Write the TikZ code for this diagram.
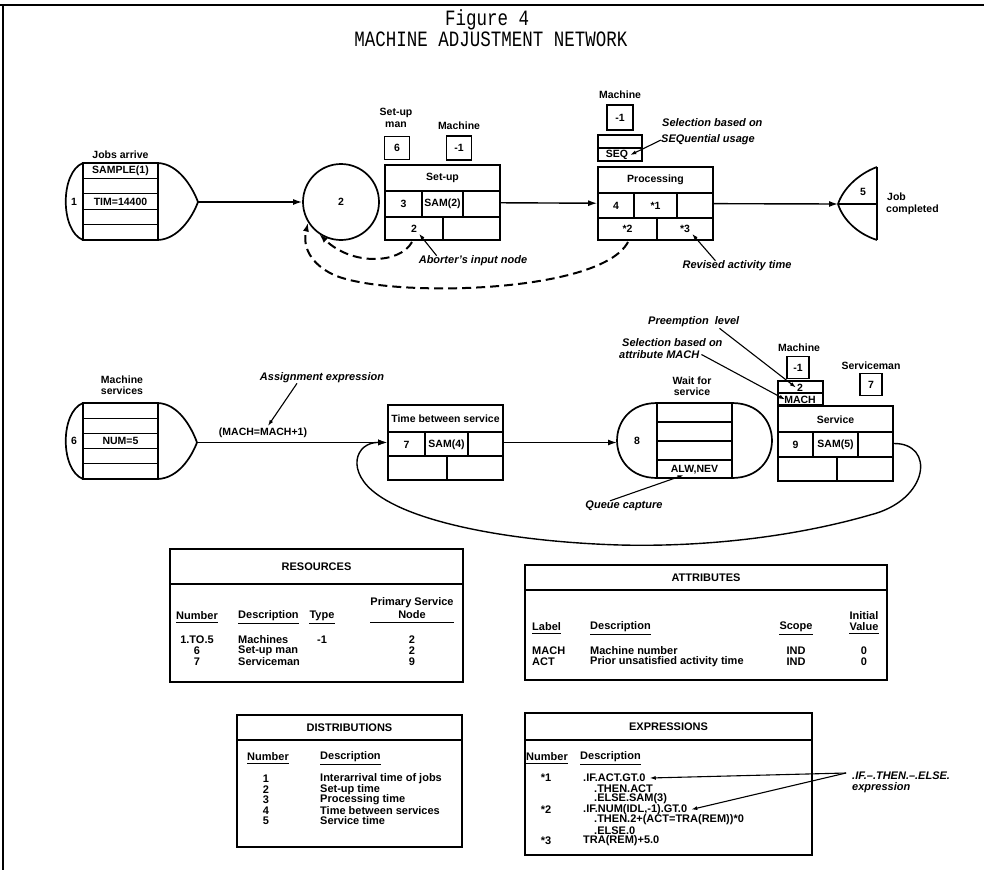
\documentclass[tikz,border=0pt]{standalone}
\usepackage{fontspec}
\setmainfont{Liberation Sans}
\newfontfamily\titlefont{Liberation Mono}
\usetikzlibrary{arrows.meta,calc}
\begin{document}
\begin{tikzpicture}[x=1pt,y=-1pt,
  lbl/.style={font=\fontsize{10.5}{10.5}\selectfont\bfseries, inner sep=0pt},
  ann/.style={font=\fontsize{11}{11}\selectfont\bfseries\itshape, inner sep=0pt},
  tbl/.style={font=\fontsize{11}{11}\selectfont\bfseries, inner sep=0pt},
  ttl/.style={font=\titlefont\fontsize{17.5}{17.5}\selectfont, inner sep=0pt, anchor=base},
  boxln/.style={line width=1.7pt},
  cellln/.style={line width=1.3pt},
  sbox/.style={draw, line width=1.7pt, inner sep=0pt, font=\fontsize{10.5}{10.5}\selectfont\bfseries},
  conn/.style={line width=1.4pt, -{Latex[length=9pt,width=6pt]}},
  lead/.style={line width=1.1pt, -{Latex[length=6pt,width=4pt]}},
  dconn/.style={line width=2pt, dash pattern=on 9pt off 5pt, -{Latex[length=9pt,width=6pt]}},
  uline/.style={line width=1.1pt},
]
\useasboundingbox (0,0) rectangle (984,883);
% frame
\draw[line width=2.5pt] (0,5) -- (984,5);
\draw[line width=1.5pt] (3,5) -- (3,870);
% title
\node[ttl] (fig) at (487,26) {\scalebox{1}[1.25]{Figure 4}};
\node[ttl] (net) at (491,47) {\scalebox{1}[1.25]{MACHINE ADJUSTMENT NETWORK}};

% ================= ROW 1 =================
% source node 1
\draw[boxln] (83,163) rectangle (158,240);
\foreach \yy in {178.4,193.8,209.2,224.6} \draw[cellln] (83,\yy) -- (158,\yy);
\draw[boxln] (83,163) .. controls (60,172) and (60,231) .. (83,240);
\draw[boxln] (158,163) .. controls (178,164) and (192,186) .. (198,202) .. controls (192,218) and (178,239) .. (158,240);
\coordinate (s1) at (198,202);
\node[lbl] (s1lab) at (120.5,155) {Jobs arrive};
\node[lbl] (s1num) at (74,202) {1};
\node[lbl] (s1a) at (120.5,171) {SAMPLE(1)};
\node[lbl] (s1b) at (120.5,201.5) {TIM=14400};

% Q node 2
\node[circle, draw, boxln, minimum size=76pt, inner sep=0pt, font=\fontsize{10.5}{10.5}\selectfont\bfseries] (q2) at (341,202) {2};
\draw[conn] (s1) -- (q2);

% set-up activity
\node[lbl] (sum1) at (396,113) {Set-up};
\node[lbl] (sum2) at (396,125) {man};
\node[sbox, minimum width=25pt, minimum height=23pt] (r6) at (397,148) {6};
\node[lbl] (sumach) at (459,126) {Machine};
\node[sbox, minimum width=25pt, minimum height=24pt] (r1a) at (459,148) {-1};
\node[draw, boxln, minimum width=115pt, minimum height=75pt, inner sep=0pt] (setup) at (442.5,202.5) {};
\draw[cellln] (385,191) -- (500,191) (385,217) -- (500,217) (422,191) -- (422,217) (463,191) -- (463,217) (443,217) -- (443,240);
\node[lbl] (sut) at (442.5,178) {Set-up};
\node[lbl] (su3) at (403.5,204) {3};
\node[lbl] (susam) at (442.5,204) {SAM(2)};
\node[lbl] (su2) at (414,229) {2};

% processing activity
\node[lbl] (prmach) at (620,95) {Machine};
\node[sbox, minimum width=26pt, minimum height=25pt] (r1b) at (620,117.5) {-1};
\draw[boxln] (598,135) rectangle (642,161);
\draw[cellln] (598,148) -- (642,148);
\node[lbl] (seqt) at (617,155) {SEQ};
\node[draw, boxln, minimum width=115pt, minimum height=73pt, inner sep=0pt] (proc) at (655.5,203.5) {};
\draw[cellln] (598,193) -- (713,193) (598,218) -- (713,218) (634,193) -- (634,218) (677,193) -- (677,218) (657,218) -- (657,240);
\node[lbl] (prt) at (655.5,180) {Processing};
\node[lbl] (pr4) at (616,205.5) {4};
\node[lbl] (pr1) at (655.5,205.5) {*1};
\node[lbl] (pr2) at (627.5,229) {*2};
\node[lbl] (pr3) at (685,229) {*3};
\draw[conn] (setup) -- (proc);

\node[ann, anchor=west] (sel1) at (662,123) {Selection based on};
\node[ann, anchor=west] (sel2) at (661,140) {SEQuential usage};
\draw[lead] (sel2.west) -- ([xshift=2pt]seqt.east);

% terminal node 5
\coordinate (t5) at (838,204);
\draw[boxln] (877,167) -- (877,240);
\draw[boxln] (877,167) .. controls (858,174) and (843,189) .. (t5) .. controls (843,220) and (858,234) .. (877,240);
\draw[cellln] (t5) -- (877,204);
\node[lbl] (t5n) at (863,192) {5};
\node[lbl, anchor=west] (t5a) at (887,197) {Job};
\node[lbl, anchor=west] (t5b) at (886,210) {completed};
\draw[conn] (proc) -- (t5);

% annotations row 1
\node[ann] (abl) at (473,261) {Aborter's input node};
\draw[lead] ([xshift=18pt]abl.north west) -- ([xshift=2pt,yshift=-1pt]su2.south east);
\node[ann] (rvl) at (737,266) {Revised activity time};
\draw[lead] ([xshift=33pt]rvl.north west) -- ([xshift=2pt,yshift=-1pt]pr3.south east);

% dashed returns
\draw[dconn] (628,242) .. controls (600,295) and (380,298) .. (332,274) .. controls (312,264) and (302,248) .. (q2.212);
\draw[dconn] (412,242) .. controls (400,264) and (352,266) .. (q2.236);

% ================= ROW 2 =================
\draw[boxln] (83,403) rectangle (158,479);
\foreach \yy in {418.2,433.4,448.6,463.8} \draw[cellln] (83,\yy) -- (158,\yy);
\draw[boxln] (83,403) .. controls (60,412) and (60,470) .. (83,479);
\draw[boxln] (158,403) .. controls (178,404) and (191,426) .. (197,442.5) .. controls (191,458) and (178,478) .. (158,479);
\coordinate (s6) at (197,442.5);
\node[lbl] (s6l1) at (122,380) {Machine};
\node[lbl] (s6l2) at (122,391) {services};
\node[lbl] (s6num) at (74,441) {6};
\node[lbl] (s6a) at (120.5,441) {NUM=5};

% time between service
\node[draw, boxln, minimum width=115pt, minimum height=75pt, inner sep=0pt] (tbs) at (445.5,442.5) {};
\draw[cellln] (388,432) -- (503,432) (388,456) -- (503,456) (425,432) -- (425,456) (468,432) -- (468,456) (447,456) -- (447,480);
\node[lbl] (tbst) at (445.5,419) {Time between service};
\node[lbl] (tb7) at (406.5,444.5) {7};
\node[lbl] (tbsam) at (446.5,444.5) {SAM(4)};
\draw[conn] (s6) -- (tbs);
\node[lbl] (mach) at (263,433) {(MACH=MACH+1)};
\node[ann] (asl) at (322,378) {Assignment expression};
\draw[lead] ([xshift=-25pt]asl.south) -- ([xshift=5pt,yshift=2pt]mach.north);

% wait node 8
\draw[boxln] (657,403) rectangle (732,478);
\draw[cellln] (657,422) -- (732,422) (657,441) -- (732,441) (657,460) -- (732,460);
\draw[boxln] (657,403) .. controls (603.7,403) and (603.7,478) .. (657,478);
\draw[boxln] (732,403) .. controls (785.3,403) and (785.3,478) .. (732,478);
\coordinate (w8) at (617,442.5);
\node[lbl] (w8n) at (637,441) {8};
\node[lbl] (alw) at (694.5,469.5) {ALW,NEV};
\node[lbl] (wl1) at (692,381) {Wait for};
\node[lbl] (wl2) at (692,392) {service};
\draw[conn] (tbs) -- (w8);
\node[ann] (qc) at (624,506) {Queue capture};
\draw[lead] ([xshift=-14pt]qc.north) -- ([xshift=-11pt,yshift=-1pt]alw.south);

% service
\node[lbl] (svmach) at (799,348) {Machine};
\node[sbox, minimum width=22pt, minimum height=22pt] (r1c) at (798,367.5) {-1};
\draw[boxln] (778,381) rectangle (823,405);
\draw[cellln] (778,393) -- (823,393);
\node[lbl] (m2) at (800,387.5) {2};
\node[lbl] (mmach) at (800,399.5) {MACH};
\node[lbl] (svman) at (871,366) {Serviceman};
\node[sbox, minimum width=22pt, minimum height=22pt] (r7) at (871,384.5) {7};
\node[draw, boxln, minimum width=115pt, minimum height=75pt, inner sep=0pt] (service) at (835.5,443.5) {};
\draw[cellln] (778,432) -- (893,432) (778,457) -- (893,457) (813,432) -- (813,457) (858,432) -- (858,457) (837,457) -- (837,481);
\node[lbl] (svt) at (835.5,419.5) {Service};
\node[lbl] (sv9) at (795.5,445) {9};
\node[lbl] (svsam) at (835.5,445) {SAM(5)};

\node[ann, anchor=west] (pre) at (648,322) {Preemption\ \ level};
\draw[lead] ([xshift=-20pt,yshift=-1pt]pre.south east) -- ([xshift=-1pt]m2.west);
\node[ann, anchor=west] (sm1) at (622,343) {Selection based on};
\node[ann, anchor=west] (sm2) at (619,354.5) {attribute MACH};
\draw[lead] ([xshift=2pt]sm2.east) -- ([xshift=1pt]mmach.west);

% loop
\draw[conn] (service.east) .. controls (935,443) and (930,500) .. (870,515) .. controls (790,538) and (700,547) .. (620,545) .. controls (520,542) and (420,525) .. (378,495) .. controls (345,472) and (355,442) .. (tbs.west);

% ================= TABLES =================
% resources
\draw[boxln] (170,549) rectangle (463,682);
\draw[cellln] (170,584) -- (463,584);
\node[tbl] (resT) at (316.5,566.5) {RESOURCES};
\node[tbl] (rh1) at (197,616) {Number};
\node[tbl, anchor=west] (rh2) at (238,616) {Description};
\node[tbl] (rh3) at (322,616) {Type};
\node[tbl] (rh4a) at (412,603) {Primary Service};
\node[tbl] (rh4b) at (412,615) {Node};
\foreach \n in {rh1,rh2,rh3} \draw[uline] ([yshift=-2.5pt]\n.south west) -- ([yshift=-2.5pt]\n.south east);
\draw[uline] ([yshift=-14.5pt]rh4a.south west) -- ([yshift=-14.5pt]rh4a.south east);
\node[tbl] (r11) at (197,640) {1.TO.5};
\node[tbl, anchor=west] (r12) at (238,640) {Machines};
\node[tbl] (r13) at (322,640) {-1};
\node[tbl] (r14) at (412,640) {2};
\node[tbl] (r21) at (197,651) {6};
\node[tbl, anchor=west] (r22) at (238,651) {Set-up man};
\node[tbl] (r24) at (412,651) {2};
\node[tbl] (r31) at (197,662) {7};
\node[tbl, anchor=west] (r32) at (238,662) {Serviceman};
\node[tbl] (r34) at (412,662) {9};

% attributes
\draw[boxln] (525,565) rectangle (887,680);
\draw[cellln] (525,590) -- (887,590);
\node[tbl] (atT) at (706,577.5) {ATTRIBUTES};
\node[tbl, anchor=west] (ah1) at (532,627) {Label};
\node[tbl, anchor=west] (ah2) at (590,627) {Description};
\node[tbl] (ah3) at (796,627) {Scope};
\node[tbl] (ah4a) at (864,615.5) {Initial};
\node[tbl] (ah4b) at (864,627) {Value};
\foreach \n in {ah1,ah2,ah3,ah4b} \draw[uline] ([yshift=-2.5pt]\n.south west) -- ([yshift=-2.5pt]\n.south east);
\node[tbl, anchor=west] (a11) at (532,651) {MACH};
\node[tbl, anchor=west] (a12) at (590,651) {Machine number};
\node[tbl] (a13) at (796,651) {IND};
\node[tbl] (a14) at (864,651) {0};
\node[tbl, anchor=west] (a21) at (532,662) {ACT};
\node[tbl, anchor=west] (a22) at (590,662) {Prior unsatisfied activity time};
\node[tbl] (a23) at (796,662) {IND};
\node[tbl] (a24) at (864,662) {0};

% distributions
\draw[boxln] (237,715) rectangle (462,847);
\draw[cellln] (237,740) -- (462,740);
\node[tbl] (diT) at (349.5,727.5) {DISTRIBUTIONS};
\node[tbl] (dh1) at (268,757) {Number};
\node[tbl, anchor=west] (dh2) at (320,757) {Description};
\foreach \n in {dh1,dh2} \draw[uline] ([yshift=-2.5pt]\n.south west) -- ([yshift=-2.5pt]\n.south east);
\node[tbl] (d1n) at (266,779) {1};
\node[tbl, anchor=west] (d1d) at (320,779) {Interarrival time of jobs};
\node[tbl] (d2n) at (266,789.5) {2};
\node[tbl, anchor=west] (d2d) at (320,789.5) {Set-up time};
\node[tbl] (d3n) at (266,800) {3};
\node[tbl, anchor=west] (d3d) at (320,800) {Processing time};
\node[tbl] (d4n) at (266,810.5) {4};
\node[tbl, anchor=west] (d4d) at (320,810.5) {Time between services};
\node[tbl] (d5n) at (266,821) {5};
\node[tbl, anchor=west] (d5d) at (320,821) {Service time};

% expressions
\draw[boxln] (525,713) rectangle (812,855);
\draw[cellln] (525,740) -- (812,740);
\node[tbl] (exT) at (668.5,726.5) {EXPRESSIONS};
\node[tbl] (eh1) at (547,757) {Number};
\node[tbl, anchor=west] (eh2) at (580,757) {Description};
\foreach \n in {eh1,eh2} \draw[uline] ([yshift=-2.5pt]\n.south west) -- ([yshift=-2.5pt]\n.south east);
\node[tbl] (e1n) at (546,778) {*1};
\node[tbl, anchor=west] (e1a) at (583,778) {.IF.ACT.GT.0};
\node[tbl, anchor=west] (e1b) at (594,788.5) {.THEN.ACT};
\node[tbl, anchor=west] (e1c) at (594,799) {.ELSE.SAM(3)};
\node[tbl] (e2n) at (546,809.5) {*2};
\node[tbl, anchor=west] (e2a) at (583,809.5) {.IF.NUM(IDL,-1).GT.0};
\node[tbl, anchor=west] (e2b) at (594,820) {.THEN.2+(ACT=TRA(REM))*0};
\node[tbl, anchor=west] (e2c) at (594,830.5) {.ELSE.0};
\node[tbl] (e3n) at (546,841) {*3};
\node[tbl, anchor=west] (e3a) at (583,841) {TRA(REM)+5.0};

\node[ann, anchor=west] (ifl1) at (852,776) {.IF.–.THEN.–.ELSE.};
\node[ann, anchor=west] (ifl2) at (852,788) {expression};
\coordinate (ifc) at (846,773);
\draw[lead] (ifc) -- ([xshift=4pt]e1a.east);
\draw[lead] (ifc) -- ([xshift=4pt]e2a.east);
\end{tikzpicture}
\end{document}
